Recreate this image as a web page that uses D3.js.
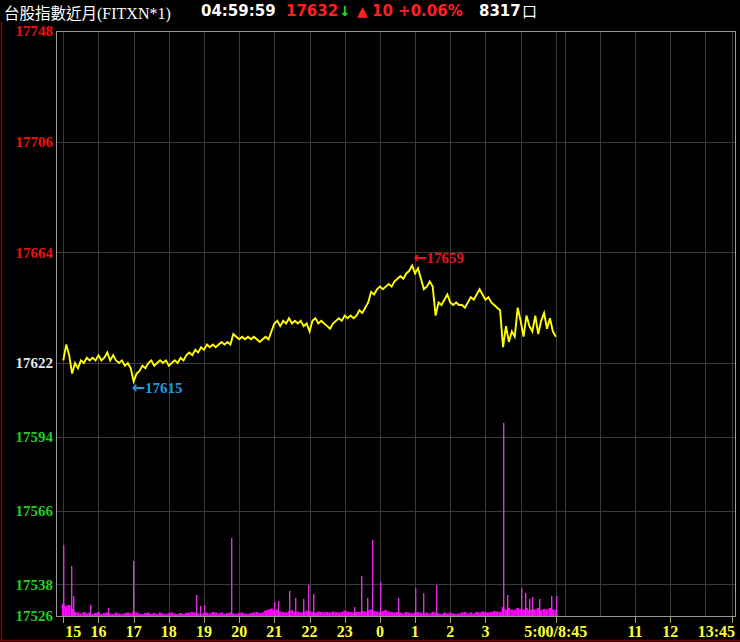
<!DOCTYPE html>
<html><head><meta charset="utf-8">
<script src="https://cdn.jsdelivr.net/npm/d3@7"></script>
<style>body{margin:0;background:#000;overflow:hidden}svg{display:block}</style>
</head><body>
<svg id="c" width="740" height="642"></svg>
<script>
// ---------- data ----------
const titleCJK = "台股指數近月";
const titleLatin = "(FITXN*1)";
const timeText = "04:59:59";
const lastPrice = "17632";
const changeText = "10 +0.06%";
const volumeText = "8317";
const volumeUnit = "口";
const refPrice = 17622;

const yTicks = [17748, 17706, 17664, 17622, 17594, 17566, 17538, 17526];

const xTickLabels  = ["15","16","17","18","19","20","21","22","23","0","1","2","3","5:00/8:45","11","12","13:45"];
const xTickMinutes = [0,60,120,180,240,300,360,420,480,540,600,660,720,840,975,1035,1140];
const gridMinutes  = [0,60,120,180,240,300,360,420,480,540,600,660,720,780,840,855,915,975,1035,1095,1140];

// price every 5 minutes from 15:00 to 05:00
const prices = [
17623,17629,17625,17618,17622,17620,17623,17622,17624,17623,
17624,17623,17625,17623,17624,17626,17623,17625,17623,17622,
17623,17621,17622,17620,17615,17618,17619,17621,17620,17622,
17623,17621,17622,17623,17622,17623,17621,17622,17623,17622,
17624,17623,17625,17626,17625,17627,17626,17628,17627,17629,
17628,17629,17628,17629,17630,17629,17630,17629,17633,17632,
17631,17632,17631,17632,17631,17632,17631,17630,17631,17632,
17631,17634,17637,17638,17636,17638,17637,17639,17637,17638,
17637,17638,17636,17637,17634,17638,17639,17637,17638,17637,
17636,17635,17637,17638,17639,17638,17640,17639,17640,17639,
17640,17642,17641,17643,17645,17649,17648,17650,17651,17650,
17651,17652,17651,17653,17654,17655,17654,17656,17657,17659,
17656,17658,17654,17650,17651,17653,17651,17640,17645,17644,
17646,17648,17645,17644,17645,17644,17644,17643,17645,17647,
17646,17648,17650,17648,17646,17647,17645,17644,17643,17642,
17628,17636,17630,17634,17632,17643,17638,17632,17640,17636,
17634,17640,17633,17638,17641,17635,17639,17634,17632
];

// base volume every 5 minutes
const volBase = [
24,20,22,14,8,
7,5,8,5,7,4,6,8,4,6,7,5,4,7,5,4,6,7,5,
8,7,5,4,6,7,4,6,4,7,5,4,6,7,5,4,6,4,6,7,8,7,5,4,6,7,5,
8,7,5,7,4,6,7,5,4,6,7,5,4,6,7,8,6,7,11,13,
15,11,13,9,8,7,10,12,8,9,7,8,11,9,8,7,9,8,7,8,7,9,8,7,8,11,9,8,7,8,
8,10,9,12,13,10,9,8,10,12,9,8,7,8,7,5,8,7,5,7,8,7,5,7,5,8,7,5,4,7,5,7,5,4,5,7,8,5,7,5,8,7,9,8,7,8,10,9,8,
18,13,16,13,12,16,14,13,16,12,14,13,16,12,14,13,16,13,12
];
// single large trades
const spikeMinutes = [0,13,16,45,76,119,226,233,240,286,360,366,385,395,409,418,426,495,507,518,526,541,570,600,613,635,750,756,781,788,795,800,811,831,840];
const spikeVolumes = [142,100,40,22,16,110,42,20,22,156,28,30,50,36,34,62,44,18,80,36,152,68,36,56,46,62,386,42,56,46,34,38,34,40,40];

// ---------- drawing ----------
const svg = d3.select("#c");
const W = 740, H = 642;
const plot = {l:56, r:736, t:31, b:616};
const serif = "'Liberation Serif','Times New Roman',serif";
const sans = "'DejaVu Sans',Verdana,sans-serif";
const cjk = "'Noto Sans CJK TC','Noto Sans CJK SC',sans-serif";

svg.append("rect").attr("width",W).attr("height",H).attr("fill","#000");

// outer dark red frame (left & bottom)
svg.append("line").attr("x1",1.5).attr("x2",1.5).attr("y1",22).attr("y2",640.5).attr("stroke","#7a0a0a").attr("stroke-width",1.5);
svg.append("line").attr("x1",0).attr("x2",W).attr("y1",640.5).attr("y2",640.5).attr("stroke","#7a0a0a").attr("stroke-width",1.5);

const x = d3.scaleLinear().domain([0,1140]).range([63.3,731.7]);
const y = d3.scaleLinear().domain([17526,17748]).range([plot.b, plot.t]);
const yv = d3.scaleLinear().domain([0,400]).range([plot.b, plot.b-200]);

// grid
const g = svg.append("g");
g.selectAll("line.v").data(gridMinutes).join("line")
  .attr("x1",d=>Math.round(x(d))+0.5).attr("x2",d=>Math.round(x(d))+0.5)
  .attr("y1",plot.t).attr("y2",plot.b).attr("stroke","#3a3a3a").attr("stroke-width",1);
g.selectAll("line.h").data(yTicks.filter(v=>v!==17748 && v!==17526)).join("line")
  .attr("x1",plot.l).attr("x2",plot.r)
  .attr("y1",d=>Math.round(y(d))+0.5).attr("y2",d=>Math.round(y(d))+0.5)
  .attr("stroke","#3a3a3a").attr("stroke-width",1);

// volume base
const step = x(5)-x(0);
svg.append("g").selectAll("rect").data(volBase).join("rect")
  .attr("x",(d,i)=>x(i*5)-step/2).attr("width",step)
  .attr("y",d=>yv(d)).attr("height",d=>plot.b-yv(d))
  .attr("fill","#ff00ff");
// volume spikes
svg.append("g").selectAll("rect").data(spikeMinutes).join("rect")
  .attr("x",d=>Math.round(x(d))).attr("width",1.4)
  .attr("y",(d,i)=>yv(spikeVolumes[i])).attr("height",(d,i)=>plot.b-yv(spikeVolumes[i]))
  .attr("fill","#e030e0");

// price line
const line = d3.line().x((d,i)=>x(i*5)).y(d=>y(d));
svg.append("path").datum(prices).attr("d",line)
  .attr("fill","none").attr("stroke","#ffff00").attr("stroke-width",1.9).attr("stroke-linejoin","miter");

// plot border
svg.append("rect").attr("x",plot.l+0.5).attr("y",plot.t+0.5)
  .attr("width",plot.r-plot.l-1).attr("height",plot.b-plot.t)
  .attr("fill","none").attr("stroke","#9a9a9a").attr("stroke-width",1);

// y labels
svg.append("g").selectAll("text").data(yTicks).join("text")
  .attr("x",53).attr("y",d=>y(d)).attr("dy","0.35em")
  .attr("text-anchor","end")
  .attr("font-family",serif).attr("font-weight","bold").attr("font-size",15)
  .attr("fill",d=> d>refPrice ? "#ee1111" : d<refPrice ? "#22cc22" : "#e8e8e8")
  .text(d=>d);

// x ticks and labels
svg.append("g").selectAll("line").data(xTickMinutes).join("line")
  .attr("x1",d=>Math.round(x(d))+0.5).attr("x2",d=>Math.round(x(d))+0.5)
  .attr("y1",plot.b+1).attr("y2",plot.b+7).attr("stroke","#a8a858").attr("stroke-width",1);
const last = xTickMinutes.length-1;
svg.append("g").selectAll("text").data(xTickMinutes).join("text")
  .attr("x",(d,i)=> i===0 ? x(d)+2 : i===last ? plot.r-1 : x(d))
  .attr("y",637)
  .attr("text-anchor",(d,i)=> i===0 ? "start" : i===last ? "end" : "middle")
  .attr("font-family",serif).attr("font-weight","bold").attr("font-size",16)
  .attr("fill","#ffff33")
  .text((d,i)=>xTickLabels[i]);

// high / low annotations
const hiI = d3.maxIndex(prices), loI = d3.minIndex(prices);
const ann = svg.append("g").attr("font-family",serif).attr("font-weight","bold").attr("font-size",15);
const annot = (xx,yy,val,col)=>{
  const t = ann.append("text").attr("x",xx).attr("y",yy).attr("dy","0.35em").attr("fill",col);
  t.append("tspan").attr("font-family",sans).attr("font-size",16).text("\u2190");
  t.append("tspan").text(val);
};
annot(x(hiI*5)+1, y(prices[hiI])-8, prices[hiI], "#e8141e");
annot(x(loI*5)-2, y(prices[loI])+6, prices[loI], "#1e9be0");

// header
const hdr = svg.append("g");
hdr.append("text").attr("x",4).attr("y",18.5).attr("font-size",15.5).attr("fill","#ffffff")
  .call(t=>{
    t.append("tspan").attr("font-family",cjk).text(titleCJK);
    t.append("tspan").attr("font-family",serif).attr("font-size",16).text(titleLatin);
  });
const hb = (xx,txt,fill,fam,size)=>hdr.append("text").attr("x",xx).attr("y",16)
  .attr("font-family",fam||sans).attr("font-weight","bold").attr("font-size",size||15)
  .attr("fill",fill).text(txt);
hb(201,timeText,"#ffffff");
hb(286,lastPrice,"#ff2020");
hb(339,"\u2193","#22dd22",sans,14);
hb(357,"\u25B2","#ff2020",sans,14);
hb(372,changeText,"#ff2020");
hb(479,volumeText,"#ffffff");
hdr.append("text").attr("x",522).attr("y",17).attr("font-family",cjk).attr("font-size",15).attr("fill","#ffffff").text(volumeUnit);
</script>
</body></html>
